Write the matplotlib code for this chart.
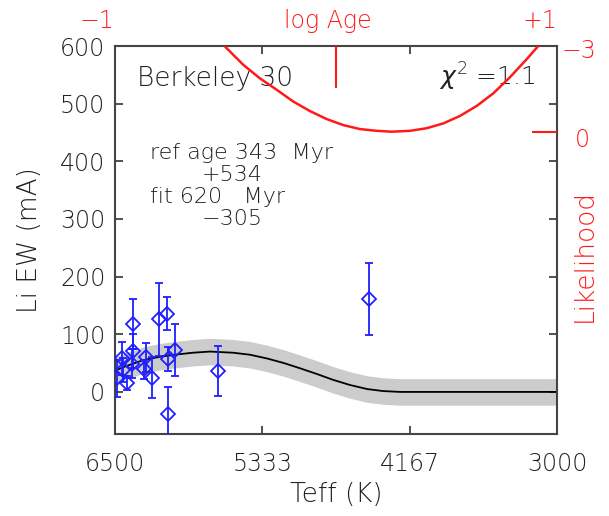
import numpy as np
import matplotlib
matplotlib.use("Agg")
import matplotlib.pyplot as plt
from matplotlib.transforms import ScaledTranslation

plt.rcParams['font.weight'] = 'light'
plt.rcParams['axes.labelweight'] = 'light'

# Li EW data (Teff, EW, error)
teff = [6482, 6447, 6434, 6403, 6355, 6355, 6363, 6268, 6255, 6210, 6149, 6086, 6078, 6025, 6083, 5682, 4486]
ew = [24, 58, 38, 15, 118, 71, 49, 39, 60, 25, 126, 136, 57, 73, -39, 36, 161]
ew_err = [32, 29, 20, 12, 44, 30, 25, 17, 25, 36, 63, 29, 21, 45, 48, 43, 63]

# model curve
model_teff = [6500, 6421, 6278, 6144, 6009, 5882, 5748, 5566, 5431, 5296, 5162, 5035,
              4900, 4774, 4639, 4504, 4378, 4243, 4000, 3000]
model_ew = [37, 44, 55, 61, 65, 68, 70, 68, 64.5, 58, 50, 41, 31, 21, 12, 5, 1.5, 0, 0, 0]
band_err = 23

# likelihood vs relative log age
log_age = [-0.502, -0.419, -0.344, -0.268, -0.193, -0.118, -0.042, 0.033, 0.109, 0.184,
           0.252, 0.335, 0.410, 0.486, 0.561, 0.637, 0.712, 0.787, 0.863, 0.915]
like = [-2.98, -2.34, -1.87, -1.47, -1.06, -0.73, -0.45, -0.24, -0.10, -0.04,
        -0.01, -0.04, -0.13, -0.30, -0.56, -0.91, -1.35, -1.91, -2.54, -3.0]

W, H = 609, 516
fig = plt.figure(figsize=(W / 100, H / 100), dpi=100)
pos = [115 / W, (H - 434) / H, 442 / W, 388 / H]
ax = fig.add_axes(pos)

fs = 17
lfs = 19
txt = '#222222'
blue = '#1f1fff'
red = '#ff1a1a'

mt = np.array(model_teff)
me = np.array(model_ew)
ax.fill_between(mt, me - band_err, me + band_err, color='#cccccc', lw=0, zorder=1)
ax.plot(mt, me, color='black', lw=1.3, zorder=2)
ax.errorbar(teff, ew, yerr=ew_err, fmt='D', mfc='none', mec=blue, ecolor=blue,
            ms=7, mew=1.3, elinewidth=1.3, capsize=3, capthick=1.3, zorder=3)

ax.set_xlim(6500, 3000)
ax.set_ylim(-73, 600)
ax.set_xticks([6500, 5333, 4167, 3000])
ax.set_yticks([0, 100, 200, 300, 400, 500, 600])
ax.tick_params(direction='in', length=6, width=1.2, top=True, right=True,
               labelsize=fs, labelcolor=txt, color='#333333')
ax.tick_params(axis='x', pad=13)
ax.tick_params(axis='y', pad=7)
for s in ax.spines.values():
    s.set_color('#444444')
    s.set_linewidth(1.5)
ax.set_xlabel('Teff (K)', fontsize=lfs, color=txt)
ax.xaxis.set_label_coords(0.5, -0.125)
ax.set_ylabel('Li EW (mA)', fontsize=lfs, color=txt)
ax.yaxis.set_label_coords(-0.165, 0.5)

ax.text(0.05, 0.948, 'Berkeley 30', transform=ax.transAxes, fontsize=19, color=txt, va='top')
ax.text(0.733, 0.92, r'$\chi^{2}$ =1.1', transform=ax.transAxes, fontsize=18, color=txt, va='center')
ax.text(0.079, 0.724, 'ref age 343  Myr', transform=ax.transAxes, fontsize=16, color=txt, va='center')
ax.text(0.195, 0.668, '+534', transform=ax.transAxes, fontsize=16, color=txt, va='center')
ax.text(0.079, 0.611, 'fit 620   Myr', transform=ax.transAxes, fontsize=16, color=txt, va='center')
ax.text(0.195, 0.554, '\u2212305', transform=ax.transAxes, fontsize=16, color=txt, va='center')

# overlay axes for likelihood vs log age
axl = fig.add_axes(pos, frameon=False)
axl.patch.set_visible(False)
axl.plot(log_age, like, color=red, lw=1.8, clip_on=True)
axl.set_xlim(-1, 1)
axl.set_ylim(10.54, -3)
axl.xaxis.tick_top()
axl.yaxis.tick_right()
axl.set_xticks([-1, 0, 1], ['\u22121', 'log Age', '+1'])
axl.set_yticks([-3, 0], ['\u22123', '0'])
axl.tick_params(axis='x', direction='in', length=30, width=1.5, color=red,
                labelcolor=red, labelsize=fs, pad=9)
axl.tick_params(axis='y', direction='in', length=18, width=1.5, color=red,
                labelcolor=red, labelsize=fs, pad=3)
xt = axl.xaxis.get_major_ticks()
xt[0].tick2line.set_visible(False)
xt[2].tick2line.set_visible(False)
axl.yaxis.get_major_ticks()[0].tick2line.set_visible(False)
for lab, dx in zip(axl.get_xticklabels(), [-18, -8, -17]):
    lab.set_transform(lab.get_transform() + ScaledTranslation(dx / 100, 0, fig.dpi_scale_trans))
for lab, (dx, dy) in zip(axl.get_yticklabels(), [(0, -3), (14, -6)]):
    lab.set_transform(lab.get_transform() + ScaledTranslation(dx / 100, dy / 100, fig.dpi_scale_trans))
fig.text(584 / W, 1 - 256 / H, 'Likelihood', rotation=90, fontsize=lfs, color=red,
         ha='center', va='center')

fig.savefig('out.png', dpi=100)
